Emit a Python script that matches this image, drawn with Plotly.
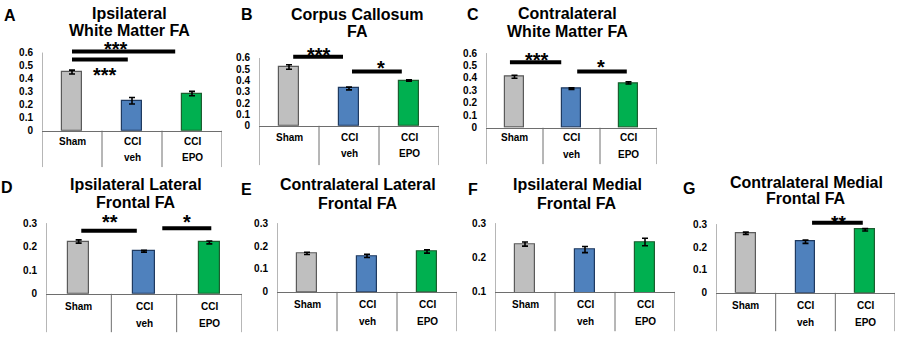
import plotly.graph_objects as go

W, H = 899, 348
FONT = "Liberation Sans, Arial, sans-serif"

# ---------------- data ----------------
GROUPS = ["Sham", "CCI veh", "CCI EPO"]
LABEL_TOP = ["Sham", "CCI", "CCI"]
LABEL_BOT = ["", "veh", "EPO"]
COLORS = ["#BFBFBF", "#4F81BD", "#00B050"]
EDGES = ["#5a5a5a", "#1f3a60", "#1b5e2f"]

ipsi_wm = [0.450, 0.230, 0.285]
ipsi_wm_err = [0.015, 0.025, 0.017]
corpus_callosum = [0.520, 0.330, 0.400]
corpus_callosum_err = [0.020, 0.012, 0.006]
contra_wm = [0.410, 0.315, 0.360]
contra_wm_err = [0.012, 0.007, 0.009]
ipsi_lat_frontal = [0.222, 0.181, 0.218]
ipsi_lat_frontal_err = [0.007, 0.004, 0.006]
contra_lat_frontal = [0.168, 0.157, 0.176]
contra_lat_frontal_err = [0.005, 0.007, 0.007]
ipsi_med_frontal = [0.239, 0.223, 0.245]
ipsi_med_frontal_err = [0.006, 0.009, 0.011]
contra_med_frontal = [0.260, 0.223, 0.275]
contra_med_frontal_err = [0.005, 0.007, 0.005]

# significance comparisons: (from group, to group, label)
sig_A = [("Sham", "CCI EPO", "***"), ("Sham", "CCI veh", "***")]
sig_B = [("Sham", "CCI veh", "***"), ("CCI veh", "CCI EPO", "*")]
sig_C = [("Sham", "CCI veh", "***"), ("CCI veh", "CCI EPO", "*")]
sig_D = [("Sham", "CCI veh", "**"), ("CCI veh", "CCI EPO", "*")]
sig_G = [("CCI veh", "CCI EPO", "**")]

# ---------------- layout of panels ----------------
# box: (left px, right px, top px of axis max, bottom px)
# the y range extends to yext so significance marks stay visible; the drawn y-axis line stops at ytop
panels = [
    dict(letter="A", title=["Ipsilateral", "White Matter FA"], vals=ipsi_wm, err=ipsi_wm_err,
         y0=0, ytop=0.6, yext=0.75, box=(42, 222, 53.5, 133), tx=129, ty=(14, 31), lx=10, ly=16,
         sig=sig_A, sig_geom=[(0.0, 1.72, 0.609, 0.73, 0.665, 20), (0.0, 0.93, 0.546, 0.55, 0.468, 20)],
         lab=(11, 27), sep=37),
    dict(letter="B", title=["Corpus Callosum", "FA"], vals=corpus_callosum, err=corpus_callosum_err,
         y0=0, ytop=0.6, yext=0.75, box=(259, 439, 59, 128), tx=357, ty=(15, 32), lx=247, ly=15,
         sig=sig_B, sig_geom=[(0.07, 0.9, 0.611, 0.5, 0.668, 20), (1.05, 1.88, 0.481, 1.53, 0.555, 20)],
         lab=(12, 28), sep=40),
    dict(letter="C", title=["Contralateral", "White Matter FA"], vals=contra_wm, err=contra_wm_err,
         y0=0, ytop=0.6, yext=0.75, box=(486, 657, 54, 130), tx=567, ty=(14, 32), lx=473, ly=15,
         sig=sig_C, sig_geom=[(-0.08, 0.82, 0.526, 0.4, 0.583, 20), (1.1, 1.97, 0.452, 1.52, 0.528, 20)],
         lab=(10, 27), sep=37),
    dict(letter="D", title=["Ipsilateral Lateral", "Frontal FA"], vals=ipsi_lat_frontal, err=ipsi_lat_frontal_err,
         y0=0, ytop=0.3, yext=0.36, box=(46, 242, 227, 299), tx=136, ty=(188, 206), lx=7, ly=191,
         sig=sig_D, sig_geom=[(0.04, 0.89, 0.267, 0.48, 0.324, 20), (1.28, 2.03, 0.278, 1.66, 0.324, 20)],
         lab=(13, 30), sep=39),
    dict(letter="E", title=["Contralateral Lateral", "Frontal FA"], vals=contra_lat_frontal, err=contra_lat_frontal_err,
         y0=0, ytop=0.3, yext=0.36, box=(277, 457, 227, 297), tx=358, ty=(188, 207), lx=246, ly=193,
         sig=[], sig_geom=[], lab=(13, 30), sep=40),
    dict(letter="F", title=["Ipsilateral Medial", "Frontal FA"], vals=ipsi_med_frontal, err=ipsi_med_frontal_err,
         y0=0.1, ytop=0.3, yext=0.34, box=(495, 675, 227, 297), tx=577, ty=(188, 207), lx=473, ly=193,
         sig=[], sig_geom=[], lab=(13, 30), sep=40),
    dict(letter="G", title=["Contralateral Medial", "Frontal FA"], vals=contra_med_frontal, err=contra_med_frontal_err,
         y0=0, ytop=0.3, yext=0.36, box=(716, 895, 228, 298), tx=806, ty=(186, 202), lx=689, ly=192,
         sig=sig_G, sig_geom=[(1.11, 1.96, 0.306, 1.56, 0.327, 19)], lab=(13, 30), sep=39),
]

fig = go.Figure()
shapes, annotations = [], []
AXCOL = "#6e6e6e"
BOLD = dict(family=FONT, color="black", weight="bold")

for i, p in enumerate(panels):
    n = "" if i == 0 else str(i + 1)
    xa, ya = "x" + n, "y" + n
    l, r, t, b = p["box"]
    y0, ytop, yext = p["y0"], p["ytop"], p["yext"]
    pxper = (b - t) / (ytop - y0)
    text_top = b - (yext - y0) * pxper
    xdom = [l / W, r / W]
    ydom = [1 - b / H, 1 - text_top / H]
    hpx = b - text_top
    ticks = [round(y0 + 0.1 * k, 1) for k in range(int(round((ytop - y0) / 0.1)) + 1)]
    fig.add_trace(go.Bar(
        x=[0, 1, 2], y=p["vals"], width=0.33,
        marker=dict(color=COLORS, line=dict(color=EDGES, width=1.2)),
        error_y=dict(type="data", array=p["err"], visible=True, color="black", thickness=1.6, width=3),
        xaxis=xa, yaxis=ya, showlegend=False, hoverinfo="skip", cliponaxis=False))
    fig.layout["xaxis" + n] = dict(domain=xdom, range=[-0.5, 2.5], showticklabels=False, ticks="",
                                   showgrid=False, zeroline=False, showline=True, linecolor=AXCOL,
                                   linewidth=1, anchor=ya, fixedrange=True)
    fig.layout["yaxis" + n] = dict(domain=ydom, range=[y0, yext], tickvals=ticks,
                                   ticktext=[("0" if v == 0 else f"{v:g}") for v in ticks],
                                   showgrid=False, zeroline=False, showline=False,
                                   ticks="", ticklabelstandoff=8, anchor=xa, fixedrange=True,
                                   tickfont=dict(size=10, **BOLD))
    # y-axis line (up to the top tick) and category separators
    shapes.append(dict(type="line", xref=xa, yref=ya, x0=-0.5, x1=-0.5, y0=y0, y1=ytop,
                       line=dict(color=AXCOL, width=1)))
    for xs in [-0.5, 0.5, 1.5, 2.5]:
        shapes.append(dict(type="line", xref=xa, yref=ya + " domain", x0=xs, x1=xs,
                           y0=0, y1=-p["sep"] / hpx, line=dict(color=AXCOL, width=1)))
    # category labels
    for k in range(3):
        for txt, off in ((LABEL_TOP[k], p["lab"][0]), (LABEL_BOT[k], p["lab"][1])):
            if txt:
                annotations.append(dict(text=txt, xref=xa, yref=ya + " domain", x=k, y=0,
                                        yshift=-off, yanchor="middle", showarrow=False,
                                        font=dict(size=10, **BOLD)))
    # title lines
    for txt, ty in zip(p["title"], p["ty"]):
        annotations.append(dict(text=txt, xref="paper", yref="paper", x=p["tx"] / W, y=1 - ty / H,
                                xanchor="center", yanchor="middle", showarrow=False,
                                font=dict(size=16, **BOLD)))
    # panel letter
    annotations.append(dict(text=p["letter"], xref="paper", yref="paper", x=p["lx"] / W, y=1 - p["ly"] / H,
                            xanchor="center", yanchor="middle", showarrow=False,
                            font=dict(size=16, **BOLD)))
    # significance bars
    for (g0, g1, lab), (x0, x1, yv, sx, sy, fs) in zip(p["sig"], p["sig_geom"]):
        shapes.append(dict(type="line", xref=xa, yref=ya, x0=x0, x1=x1, y0=yv, y1=yv,
                           line=dict(color="black", width=4)))
        annotations.append(dict(text=lab, xref=xa, yref=ya, x=sx, y=sy, yshift=-5,
                                xanchor="center", yanchor="middle", showarrow=False,
                                font=dict(size=fs, **BOLD)))

fig.update_layout(width=W, height=H, margin=dict(l=0, r=0, t=0, b=0),
                  paper_bgcolor="white", plot_bgcolor="white",
                  shapes=shapes, annotations=annotations, bargap=0)
fig.write_html("out.html", config={"displayModeBar": False},
               post_script="document.body.style.margin='0';document.body.style.overflow='hidden';")
